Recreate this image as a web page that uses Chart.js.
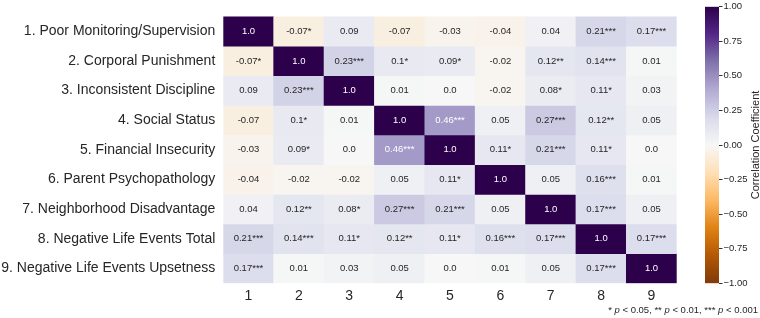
<!DOCTYPE html>
<html>
<head>
<meta charset="utf-8">
<script src="https://cdn.jsdelivr.net/npm/chart.js@4.4.1/dist/chart.umd.min.js"></script>
<style>
  html, body { margin: 0; padding: 0; background: #fff; }
  body { width: 760px; height: 318px; position: relative; overflow: hidden; font-family: "Liberation Sans", Arial, sans-serif; }
  #heat { position: absolute; left: 0; top: 0; }
  #cbar { position: absolute; left: 690px; top: 0; }
  .note { position: absolute; right: 2px; top: 304px; font-size: 9.5px; color: #262626; white-space: nowrap; }
</style>
</head>
<body>
<canvas id="heat" width="677" height="318"></canvas>
<canvas id="cbar" width="70" height="318"></canvas>
<div class="note">* <i>p</i> &lt; 0.05, ** <i>p</i> &lt; 0.01, *** <i>p</i> &lt; 0.001</div>
<script>
const variables = [
  '1. Poor Monitoring/Supervision',
  '2. Corporal Punishment',
  '3. Inconsistent Discipline',
  '4. Social Status',
  '5. Financial Insecurity',
  '6. Parent Psychopathology',
  '7. Neighborhood Disadvantage',
  '8. Negative Life Events Total',
  '9. Negative Life Events Upsetness'
];
const colLabels = ['1', '2', '3', '4', '5', '6', '7', '8', '9'];

const corr = [
  [1.0, -0.07, 0.09, -0.07, -0.03, -0.04, 0.04, 0.21, 0.17],
  [-0.07, 1.0, 0.23, 0.1, 0.09, -0.02, 0.12, 0.14, 0.01],
  [0.09, 0.23, 1.0, 0.01, 0.0, -0.02, 0.08, 0.11, 0.03],
  [-0.07, 0.1, 0.01, 1.0, 0.46, 0.05, 0.27, 0.12, 0.05],
  [-0.03, 0.09, 0.0, 0.46, 1.0, 0.11, 0.21, 0.11, 0.0],
  [-0.04, -0.02, -0.02, 0.05, 0.11, 1.0, 0.05, 0.16, 0.01],
  [0.04, 0.12, 0.08, 0.27, 0.21, 0.05, 1.0, 0.17, 0.05],
  [0.21, 0.14, 0.11, 0.12, 0.11, 0.16, 0.17, 1.0, 0.17],
  [0.17, 0.01, 0.03, 0.05, 0.0, 0.01, 0.05, 0.17, 1.0]
];
const stars = [
  ['', '*', '', '', '', '', '', '***', '***'],
  ['*', '', '***', '*', '*', '', '**', '***', ''],
  ['', '***', '', '', '', '', '*', '*', ''],
  ['', '*', '', '', '***', '', '***', '**', ''],
  ['', '*', '', '***', '', '*', '***', '*', ''],
  ['', '', '', '', '*', '', '', '***', ''],
  ['', '**', '*', '***', '***', '', '', '***', ''],
  ['***', '***', '*', '**', '*', '***', '***', '', '***'],
  ['***', '', '', '', '', '', '', '***', '']
];
const cbTicks = [-1, -0.75, -0.5, -0.25, 0, 0.25, 0.5, 0.75, 1];

// PuOr colormap stops (-1 .. 1)
const puor = ['#7f3b08', '#b35806', '#e08214', '#fdb863', '#fee0b6', '#f7f7f7',
              '#d8daeb', '#b2abd2', '#8073ac', '#542788', '#2d004b'];

function hex(h) { return [1, 3, 5].map(i => parseInt(h.substr(i, 2), 16)); }
function colorFor(v) {
  const t = (v + 1) / 2 * (puor.length - 1);
  const i = Math.min(Math.floor(t), puor.length - 2);
  const f = t - i;
  const a = hex(puor[i]), b = hex(puor[i + 1]);
  const c = a.map((x, k) => Math.round(x + (b[k] - x) * f));
  return `rgb(${c[0]},${c[1]},${c[2]})`;
}
function fmt(v) { return Number.isInteger(v) ? v.toFixed(1) : String(v); }

const FONT = '"Liberation Sans", Arial, sans-serif';
const TXT = '#262626';

const datasets = corr.map((row, r) => ({
  data: row.map(() => [r, r + 1]),
  backgroundColor: row.map(colorFor),
  borderWidth: 0,
  barPercentage: 1,
  categoryPercentage: 1,
  grouped: false
}));

const annot = {
  id: 'annot',
  afterDatasetsDraw(chart) {
    const ctx = chart.ctx;
    ctx.save();
    ctx.font = '9.5px ' + FONT;
    ctx.textAlign = 'center';
    ctx.textBaseline = 'middle';
    chart.data.datasets.forEach((ds, r) => {
      chart.getDatasetMeta(r).data.forEach((bar, c) => {
        const v = corr[r][c];
        const p = bar.getCenterPoint();
        ctx.fillStyle = Math.abs(v) > 0.4 ? '#ffffff' : TXT;
        ctx.fillText(fmt(v) + stars[r][c], p.x, p.y);
      });
    });
    ctx.restore();
  }
};

new Chart(document.getElementById('heat'), {
  type: 'bar',
  data: { labels: colLabels, datasets },
  options: {
    responsive: false,
    animation: false,
    layout: { padding: { top: 4.7, left: 0, right: 0.3, bottom: 0 } },
    plugins: { legend: { display: false }, tooltip: { enabled: false } },
    scales: {
      x: {
        grid: { display: false, drawTicks: false },
        border: { display: false },
        ticks: { color: TXT, font: { family: FONT, size: 14 }, padding: 4 },
        afterFit(s) { s.height = 34.7; }
      },
      y: {
        min: 0, max: 9, reverse: true,
        grid: { display: false, drawTicks: false },
        border: { display: false },
        afterBuildTicks(s) { s.ticks = variables.map((_, i) => ({ value: i + 0.5 })); },
        ticks: {
          color: TXT, font: { family: FONT, size: 14 }, padding: 8,
          callback: v => variables[Math.floor(v)]
        },
        afterFit(s) { s.width = 223.3; }
      }
    }
  },
  plugins: [annot]
});

const cbTitle = {
  id: 'cbTitle',
  afterDraw(chart) {
    const ctx = chart.ctx;
    const a = chart.chartArea;
    ctx.save();
    ctx.translate(65.5, (a.top + a.bottom) / 2);
    ctx.rotate(-Math.PI / 2);
    ctx.font = '11px ' + FONT;
    ctx.fillStyle = TXT;
    ctx.textAlign = 'center';
    ctx.textBaseline = 'middle';
    ctx.fillText('Correlation Coefficient', 0, 0);
    ctx.restore();
  }
};

new Chart(document.getElementById('cbar'), {
  type: 'bar',
  data: {
    labels: [''],
    datasets: [{
      data: [[-1, 1]],
      borderWidth: 0,
      barPercentage: 1,
      categoryPercentage: 1,
      backgroundColor(c) {
        const a = c.chart.chartArea;
        if (!a) return puor[5];
        const g = c.chart.ctx.createLinearGradient(0, a.bottom, 0, a.top);
        puor.forEach((col, i) => g.addColorStop(i / (puor.length - 1), col));
        return g;
      }
    }]
  },
  options: {
    responsive: false,
    animation: false,
    layout: { padding: { top: 4, left: 15, right: 0, bottom: 34.7 } },
    plugins: { legend: { display: false }, tooltip: { enabled: false } },
    scales: {
      x: { display: false },
      y: {
        position: 'right',
        min: -1, max: 1,
        afterBuildTicks(s) { s.ticks = cbTicks.map(v => ({ value: v })); },
        grid: { display: true, drawOnChartArea: false, drawTicks: true, tickLength: 3.5, color: '#333' },
        border: { display: false },
        ticks: {
          color: TXT, font: { family: FONT, size: 9.5 }, padding: 1,
          callback: v => (v < 0 ? '\u2212' : '') + Math.abs(v).toFixed(2)
        },
        afterFit(s) { s.width = 41; }
      }
    }
  },
  plugins: [cbTitle]
});
</script>
</body>
</html>
